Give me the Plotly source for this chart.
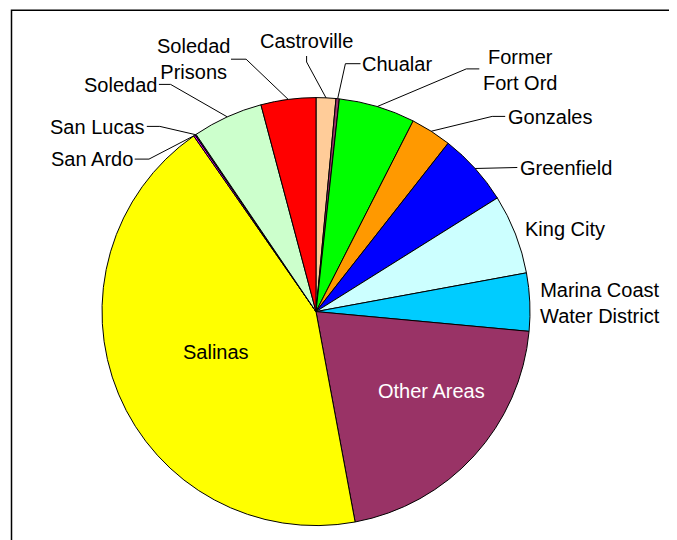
import math
import plotly.graph_objects as go

# ---- data ----
categories = ["Castroville", "Chualar", "Former Fort Ord", "Gonzales", "Greenfield",
              "King City", "Marina Coast Water District", "Other Areas", "Salinas",
              "San Ardo", "San Lucas", "Soledad", "Soledad Prisons"]
shares = [1.49, 0.25, 5.76, 3.09, 5.50, 6.01, 4.37, 20.60, 43.24, 0.13, 0.08, 5.33, 4.14]
label_texts = ["Castroville", "Chualar", "Former<br>Fort Ord", "Gonzales", "Greenfield",
               "King City", "Marina Coast<br>Water District", "Other Areas", "Salinas",
               "San Ardo", "San Lucas", "Soledad", "Soledad<br>Prisons"]

# ---- styling ----
colors = ["#FFCC99", "#993366", "#00FF00", "#FF9900", "#0000FF", "#CCFFFF", "#00CCFF",
          "#993366", "#FFFF00", "#FF00FF", "#000080", "#CCFFCC", "#FF0000"]
OFF = 8  # default page body margin
W, H = 677 - OFF, 540 - OFF
CX, CY, R = 316.0, 311.6, 214.0
FONT = "Liberation Sans, Arial, sans-serif"
FS = 20

# label placement (window pixel centre) and leader-line start/knee
label_pos = {
    "Castroville": (306, 41, [(306.6, 56), (306.6, 62)]),
    "Chualar": (397, 64, [(360.5, 63.7), (345.4, 63.7)]),
    "Former Fort Ord": (520, 70, [(479.3, 68.9), (466.3, 68.9)]),
    "Gonzales": (550, 116.5, [(505.2, 116.4), (492.2, 116.4)]),
    "Greenfield": (566, 167.5, [(517.3, 167.5)]),
    "King City": (565, 229, None),
    "Marina Coast Water District": (600, 303, None),
    "Other Areas": (431, 391, None),
    "Salinas": (216, 351.5, None),
    "San Ardo": (92, 159, [(134.7, 159.1), (149, 159.1)]),
    "San Lucas": (97, 126.5, [(146.8, 126.4), (159.8, 126.4)]),
    "Soledad": (120, 85, [(158.9, 84.4), (170.6, 84.4)]),
    "Soledad Prisons": (193, 59, [(231, 59.2), (246.1, 59.2)]),
}

def px(x):
    return (x - OFF) / W

def py(y):
    return 1 - (y - OFF) / H

fig = go.Figure(go.Pie(
    labels=categories,
    values=shares,
    sort=False,
    direction="clockwise",
    rotation=0,
    textinfo="none",
    marker=dict(colors=colors, line=dict(color="black", width=1)),
    domain=dict(x=[px(CX - R), px(CX + R)], y=[py(CY + R), py(CY - R)]),
    hoverinfo="label+percent",
    showlegend=False,
))

total = sum(shares)
cum = 0.0
shapes = []
annotations = []
for name, val, txt in zip(categories, shares, label_texts):
    mid = (cum + val / 2) / total * 2 * math.pi
    cum += val
    ex = CX + R * math.sin(mid)
    ey = CY - R * math.cos(mid)
    lx, ly, leader = label_pos[name]
    fcolor = "white" if name == "Other Areas" else "black"
    annotations.append(dict(
        x=px(lx), y=py(ly), xref="paper", yref="paper", text=txt, showarrow=False,
        xanchor="center", yanchor="middle", align="center",
        font=dict(family=FONT, size=FS, color=fcolor)))
    if leader:
        pts = leader + [(ex, ey)]
        path = "M " + " L ".join(f"{px(a):.5f} {py(b):.5f}" for a, b in pts)
        shapes.append(dict(type="path", path=path, xref="paper", yref="paper",
                           line=dict(color="black", width=1)))

# chart frame (extends past the visible window on right and bottom)
shapes.append(dict(type="rect", xref="paper", yref="paper",
                   x0=px(11.5), y0=py(600), x1=px(720), y1=py(10.3),
                   line=dict(color="black", width=1.5), layer="below"))

fig.update_layout(
    width=W, height=H,
    margin=dict(l=0, r=0, t=0, b=0),
    paper_bgcolor="white", plot_bgcolor="white",
    shapes=shapes, annotations=annotations,
)

fig.write_html("out.html")
